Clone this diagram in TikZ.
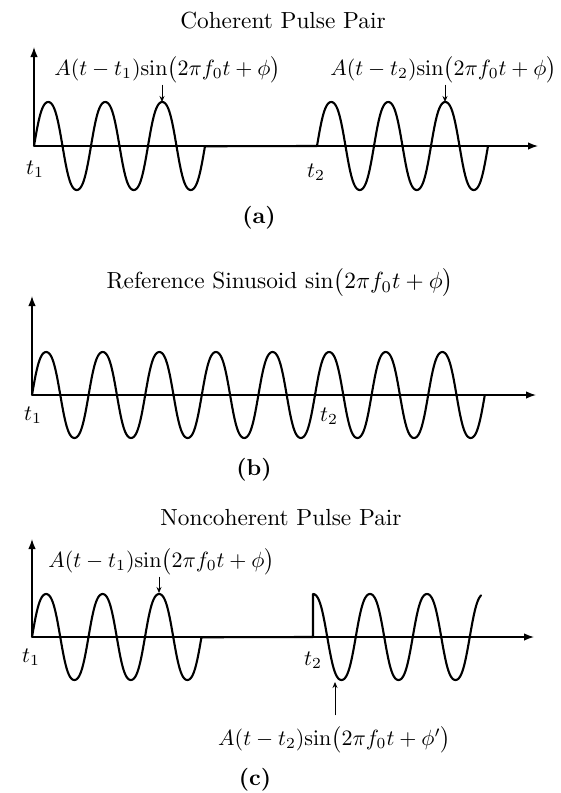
\documentclass[tikz,border=0pt]{standalone}
\usetikzlibrary{arrows.meta}
\tikzset{
  declare function={sq(\t)=(sin(\t)+0.05*sin(3*\t))/0.95;},
  wave/.style={line width=2.1pt, line join=round, line cap=round},
  axisline/.style={line width=1.35pt, -{Latex[length=10pt,width=7.5pt]}},
  ptr/.style={line width=0.8pt, -{Stealth[length=6pt,width=5pt]}},
  lbl/.style={inner sep=0.5pt, scale=2.2},
  ttl/.style={inner sep=0.5pt, scale=2.33},
  tlab/.style={inner sep=0pt, scale=2.2},
  panelcap/.style={inner sep=0pt, scale=2.3, font=\bfseries}
}
\newcommand{\sinop}{\mathord{\mathrm{sin}}}
\begin{document}
\begin{tikzpicture}[x=1pt,y=-1pt]
\fill[white] (0,0) rectangle (560,793);
\useasboundingbox (0,0) rectangle (560,793);

% ---------------- (a) ----------------
\node[ttl] (a-title) at (283,21) {Coherent Pulse Pair};
\coordinate (a-o) at (34,146);
\coordinate (a-top) at (34,47);
\coordinate (a-end) at (538,146);
\draw[axisline] (a-o) -- (a-top);
\draw[axisline] (a-o) -- (a-end);
\draw[wave] (a-o) -- plot[domain=0:3,samples=241] ({34+57*\x},{146-44*sq(360*\x)})
  -- (317,146) -- plot[domain=0:3,samples=241] ({317+57*\x},{146-44*sq(360*\x)});
\coordinate (a-p1) at (162,102);
\coordinate (a-p2) at (445,102);
\node[lbl] (a-l1) at (167.5,70) {$A(t-t_1)\sinop\bigl(2\pi f_0t+\phi\bigr)$};
\node[lbl] (a-l2) at (443.5,70) {$A(t-t_2)\sinop\bigl(2\pi f_0t+\phi\bigr)$};
\draw[ptr] (a-l1.south -| a-p1) -- (a-p1);
\draw[ptr] (a-l2.south -| a-p2) -- (a-p2);
\node[tlab] (a-t1) at (35,169) {$t_1$};
\node[tlab] (a-t2) at (316,172) {$t_2$};
\node[panelcap] (a-cap) at (259,218) {(a)};

% ---------------- (b) ----------------
\node[ttl] (b-title) at (280,283) {Reference Sinusoid $\sin\bigl(2\pi f_0t+\phi\bigr)$};
\coordinate (b-o) at (32,395);
\coordinate (b-top) at (32,296);
\coordinate (b-end) at (536,395);
\draw[axisline] (b-o) -- (b-top);
\draw[axisline] (b-o) -- (b-end);
\draw[wave] (b-o) -- plot[domain=0:8,samples=481] ({32+56.6*\x},{395-43*sq(360*\x)});
\node[tlab] (b-t1) at (33,415) {$t_1$};
\node[tlab] (b-t2) at (329,416) {$t_2$};
\node[panelcap] (b-cap) at (254,470) {(b)};

% ---------------- (c) ----------------
\node[ttl] (c-title) at (281,518) {Noncoherent Pulse Pair};
\coordinate (c-o) at (32,637);
\coordinate (c-top) at (32,539);
\coordinate (c-end) at (534,637);
\draw[axisline] (c-o) -- (c-top);
\draw[axisline] (c-o) -- (c-end);
\draw[wave] (c-o) -- plot[domain=0:3,samples=241] ({32+56.5*\x},{637-43*sq(360*\x)})
  -- (313,637) -- (313,594)
  -- plot[domain=0:2.95,samples=241] ({313+57*\x},{637-43*sq(360*\x+90)});
\coordinate (c-p1) at (159,593);
\coordinate (c-tr) at (335,682);
\node[lbl] (c-l1) at (161.5,562) {$A(t-t_1)\sinop\bigl(2\pi f_0t+\phi\bigr)$};
\node[lbl] (c-l2) at (334.5,740) {$A(t-t_2)\sinop\bigl(2\pi f_0t+\phi'\bigr)$};
\draw[ptr] (c-l1.south -| c-p1) -- (c-p1);
\draw[ptr, shorten <=10pt] (c-l2.north -| c-tr) -- (c-tr);
\node[tlab] (c-t1) at (31,657) {$t_1$};
\node[tlab] (c-t2) at (313,660) {$t_2$};
\node[panelcap] (c-cap) at (255,780) {(c)};
\end{tikzpicture}
\end{document}
